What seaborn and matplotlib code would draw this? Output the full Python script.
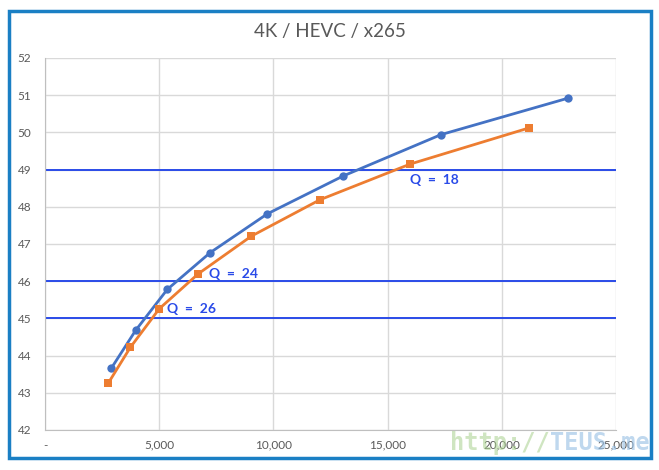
import matplotlib
matplotlib.use("Agg")
import matplotlib.pyplot as plt
import matplotlib.patches as mpatches
import seaborn as sns
import pandas as pd

# Datos (bitrate, PSNR)
bitrate_a = [2903, 3971, 5355, 7237, 9733, 13060, 17338, 22898]
psnr_a = [43.66, 44.68, 45.78, 46.77, 47.81, 48.83, 49.94, 50.92]
bitrate_b = [2771, 3735, 5004, 6712, 9032, 12040, 15994, 21190]
psnr_b = [43.26, 44.22, 45.26, 46.20, 47.21, 48.19, 49.15, 50.12]

q_niveles = [49, 46, 45]
q_etiquetas = ["Q  =  18", "Q  =  24", "Q  =  26"]
q_indices = [6, 3, 2]  # punto naranja asociado a cada etiqueta

x_ticks = [0, 5000, 10000, 15000, 20000, 25000]
x_labels = ["-", "5,000", "10,000", "15,000", "20,000", "25,000"]
y_ticks = list(range(42, 53))

df = pd.concat([
    pd.DataFrame({"bitrate": bitrate_a, "psnr": psnr_a, "serie": "a"}),
    pd.DataFrame({"bitrate": bitrate_b, "psnr": psnr_b, "serie": "b"}),
])

sns.set_style("white")
plt.rcParams["font.family"] = ["Lato", "DejaVu Sans"]

gris = "#595959"
azul = "#4472c4"
naranja = "#ed7d31"
azul_q = "#2a4be8"

fig = plt.figure(figsize=(6.59, 4.70), dpi=100)
ax = fig.add_axes([45 / 659, 1 - 430 / 470, 571 / 659, 372 / 470])

# Líneas Q
for nivel in q_niveles:
    ax.axhline(nivel, color=azul_q, lw=1.4, zorder=2)

sns.lineplot(data=df[df.serie == "a"], x="bitrate", y="psnr", color=azul, marker="o",
             markersize=6, markeredgewidth=0, lw=2, ax=ax, zorder=3)
sns.lineplot(data=df[df.serie == "b"], x="bitrate", y="psnr", color=naranja, marker="s",
             markersize=6, markeredgewidth=0, lw=2, ax=ax, zorder=3)

offsets = [(0, -16), (11, 0), (8, 0)]
for etq, idx, off in zip(q_etiquetas, q_indices, offsets):
    ax.annotate(etq, xy=(bitrate_b[idx], psnr_b[idx]), xytext=off, textcoords="offset pixels",
                ha="left", va="center", color=azul_q, fontsize=10, fontweight="bold")

ax.set_xlim(0, 25000)
ax.set_ylim(42, 52)
ax.set_xticks(x_ticks)
ax.set_xticklabels(x_labels)
ax.set_yticks(y_ticks)
ax.tick_params(axis="both", colors=gris, labelsize=8.5, length=0)
ax.tick_params(axis="x", pad=7)
ax.tick_params(axis="y", pad=10)
ax.grid(True, color="#d9d9d9", lw=1)
ax.set_axisbelow(True)
for lado in ["top", "right"]:
    ax.spines[lado].set_visible(False)
for lado in ["left", "bottom"]:
    ax.spines[lado].set_color("#bfbfbf")
ax.set_xlabel("")
ax.set_ylabel("")

fig.text(0.5, 1 - 32 / 470, "4K / HEVC / x265", ha="center", va="center", color=gris, fontsize=13.5)

# Marco exterior
marco = mpatches.Rectangle((9 / 659, 12 / 470), 642 / 659, 447 / 470, transform=fig.transFigure,
                           fill=False, edgecolor="#1a7fc4", lw=2.5)
fig.patches.append(marco)

# Marca de agua
fig.text(450 / 659, 1 - 443 / 470, "http://", color="#a9d18e", alpha=0.55, fontsize=17,
         fontweight="bold", va="center", ha="left", family="DejaVu Sans Mono")
fig.text(550 / 659, 1 - 443 / 470, "TEUS.me", color="#9dc3e6", alpha=0.65, fontsize=17,
         fontweight="bold", va="center", ha="left", family="DejaVu Sans Mono")

fig.savefig("out.png", dpi=100)
